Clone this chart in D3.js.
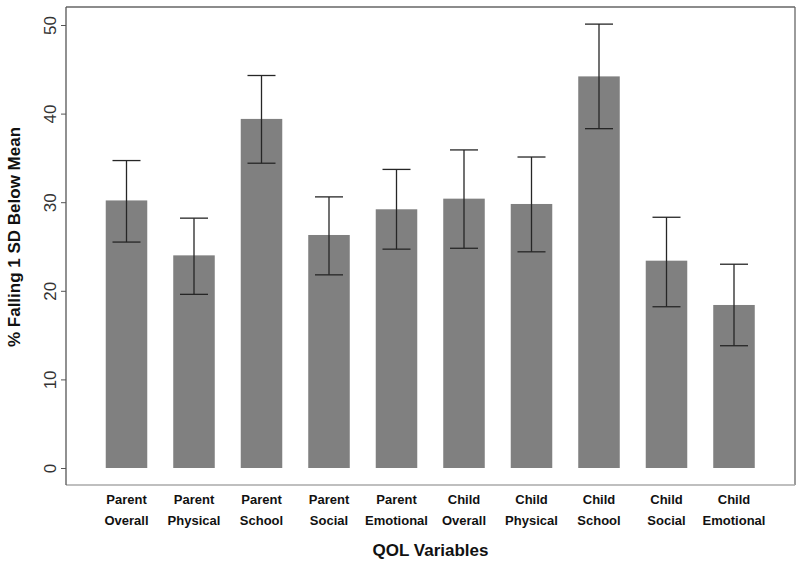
<!DOCTYPE html>
<html>
<head>
<meta charset="utf-8">
<script src="https://cdn.jsdelivr.net/npm/d3@7"></script>
<style>
  html, body { margin: 0; padding: 0; background: #fff; }
  svg { display: block; }
</style>
</head>
<body>
<svg id="chart" width="800" height="563"></svg>
<script>
const categories = ["Parent Overall", "Parent Physical", "Parent School", "Parent Social", "Parent Emotional",
                    "Child Overall", "Child Physical", "Child School", "Child Social", "Child Emotional"];
const values   = [30.2, 24.0, 39.4, 26.3, 29.2, 30.4, 29.8, 44.2, 23.4, 18.4];
const ciUpper  = [34.7, 28.2, 44.3, 30.6, 33.7, 35.9, 35.1, 50.1, 28.3, 23.0];
const ciLower  = [25.5, 19.6, 34.4, 21.8, 24.7, 24.8, 24.4, 38.3, 18.2, 13.8];
const yTicks   = [0, 10, 20, 30, 40, 50];
const yTitle = "% Falling 1 SD Below Mean";
const xTitle = "QOL Variables";

const svg = d3.select("#chart");
const frame = {left: 66, right: 795, top: 7, bottom: 485};

const x = d3.scaleBand().domain(categories).range([92.75, 767.75])
  .paddingInner(0.385).paddingOuter(0.1925);
const y = d3.scaleLinear().domain([0, 50]).range([468, 25]);

// bars
svg.append("g").selectAll("rect").data(categories).join("rect")
  .attr("x", d => x(d))
  .attr("width", x.bandwidth())
  .attr("y", (d, i) => y(values[i]))
  .attr("height", (d, i) => y(0) - y(values[i]))
  .attr("fill", "#808080");

// error bars
const eg = svg.append("g").attr("stroke", "#262626").attr("stroke-width", 1.3);
categories.forEach((c, i) => {
  const cx = x(c) + x.bandwidth() / 2;
  eg.append("line").attr("x1", cx).attr("x2", cx).attr("y1", y(ciUpper[i])).attr("y2", y(ciLower[i]));
  eg.append("line").attr("x1", cx - 14).attr("x2", cx + 14).attr("y1", y(ciUpper[i])).attr("y2", y(ciUpper[i]));
  eg.append("line").attr("x1", cx - 14).attr("x2", cx + 14).attr("y1", y(ciLower[i])).attr("y2", y(ciLower[i]));
});

// frame
svg.append("line").attr("x1", frame.left).attr("x2", frame.right).attr("y1", frame.top).attr("y2", frame.top)
  .attr("stroke", "#666").attr("stroke-width", 1.3);
svg.append("line").attr("x1", frame.right).attr("x2", frame.right).attr("y1", frame.top).attr("y2", frame.bottom)
  .attr("stroke", "#666").attr("stroke-width", 1.3);
svg.append("line").attr("x1", frame.left).attr("x2", frame.right).attr("y1", frame.bottom).attr("y2", frame.bottom)
  .attr("stroke", "#aaa").attr("stroke-width", 1.3);

// y axis
const yAxis = d3.axisLeft(y).tickValues(yTicks).tickSize(5).tickPadding(4);
const ya = svg.append("g").attr("transform", `translate(${frame.left},0)`).call(yAxis);
ya.select(".domain").remove();
ya.append("line").attr("x1", 0).attr("x2", 0).attr("y1", frame.top).attr("y2", frame.bottom)
  .attr("stroke", "#555").attr("stroke-width", 1.3);
ya.selectAll(".tick line").attr("stroke", "#555");
ya.selectAll(".tick text")
  .attr("font-family", "Liberation Sans, Arial, sans-serif")
  .attr("font-size", 17).attr("fill", "#333")
  .attr("transform", "rotate(-90)")
  .attr("x", 0).attr("y", -16).attr("dy", "0.35em").attr("text-anchor", "middle");

// x labels (two lines)
const xl = svg.append("g").attr("font-family", "Liberation Sans, Arial, sans-serif")
  .attr("font-size", 13).attr("font-weight", "bold").attr("fill", "#111");
categories.forEach(c => {
  const cx = x(c) + x.bandwidth() / 2;
  const parts = c.split(" ");
  xl.append("text").attr("x", cx).attr("y", 504).attr("text-anchor", "middle").text(parts[0]);
  xl.append("text").attr("x", cx).attr("y", 525).attr("text-anchor", "middle").text(parts[1]);
});

// titles
svg.append("text").attr("x", (frame.left + frame.right) / 2).attr("y", 556)
  .attr("text-anchor", "middle").attr("font-family", "Liberation Sans, Arial, sans-serif")
  .attr("font-size", 17).attr("font-weight", "bold").attr("fill", "#111").text(xTitle);
svg.append("text").attr("transform", "translate(20,237) rotate(-90)")
  .attr("text-anchor", "middle").attr("font-family", "Liberation Sans, Arial, sans-serif")
  .attr("font-size", 17).attr("font-weight", "bold").attr("fill", "#111").text(yTitle);
</script>
</body>
</html>
